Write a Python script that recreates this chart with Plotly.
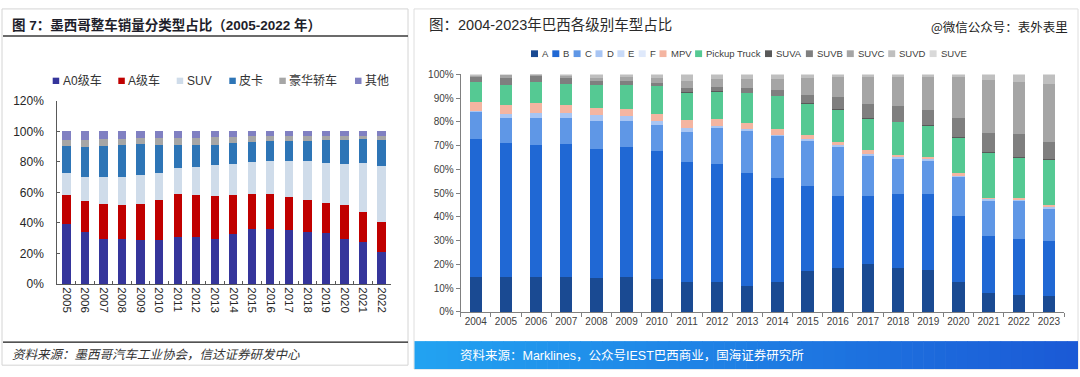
import plotly.graph_objects as go

W, H = 1080, 377

# ---------------- Left chart data: Mexico vehicle sales share by type (%) ----------------
mx_years = ["2005", "2006", "2007", "2008", "2009", "2010", "2011", "2012", "2013",
            "2014", "2015", "2016", "2017", "2018", "2019", "2020", "2021", "2022"]
mx_a0 = [39.0, 33.8, 29.2, 29.2, 28.8, 28.6, 30.7, 30.5, 29.2, 32.8, 35.9, 36.3, 35.1, 33.8, 33.4, 29.4, 27.5, 21.2]
mx_a = [19.4, 20.4, 23.5, 22.3, 23.7, 26.7, 28.5, 27.7, 28.6, 25.4, 23.3, 22.9, 21.8, 21.0, 19.8, 22.3, 20.0, 19.6]
mx_suv = [14.1, 16.0, 17.7, 18.7, 18.7, 17.6, 16.6, 18.3, 19.9, 20.4, 20.6, 21.1, 23.8, 25.9, 26.4, 26.7, 31.5, 36.3]
mx_pickup = [17.8, 19.5, 20.1, 21.2, 20.6, 18.3, 15.6, 14.3, 13.5, 13.8, 13.5, 13.2, 13.2, 13.2, 14.7, 16.1, 15.7, 17.2]
mx_luxury = [4.0, 4.6, 4.5, 3.8, 3.8, 4.4, 4.6, 5.2, 5.2, 4.2, 3.5, 3.3, 3.2, 3.2, 2.8, 2.6, 2.4, 2.5]
mx_other = [5.7, 5.7, 5.0, 4.8, 4.4, 4.4, 4.0, 4.0, 3.6, 3.4, 3.2, 3.2, 2.9, 2.9, 2.9, 2.9, 2.9, 3.2]
mx_names = ["A0级车", "A级车", "SUV", "皮卡", "豪华轿车", "其他"]
mx_yticks = [0, 20, 40, 60, 80, 100, 120]
mx_yticklabels = ["0%", "20%", "40%", "60%", "80%", "100%", "120%"]

# ---------------- Right chart data: Brazil share by segment (%) ----------------
br_years = ["2004", "2005", "2006", "2007", "2008", "2009", "2010", "2011", "2012", "2013",
            "2014", "2015", "2016", "2017", "2018", "2019", "2020", "2021", "2022", "2023"]
br_a = [14.6, 14.9, 14.9, 14.9, 14.2, 14.6, 13.8, 12.8, 12.8, 11.1, 12.8, 17.3, 18.5, 20.0, 18.6, 17.6, 12.4, 8.1, 7.0, 6.8]
br_b = [58.1, 56.3, 55.4, 55.8, 54.3, 55.0, 54.0, 50.3, 49.5, 47.4, 43.6, 35.7, 30.4, 28.9, 30.9, 31.9, 27.9, 23.9, 23.7, 22.9]
br_c = [11.4, 10.3, 11.2, 10.8, 11.9, 10.8, 10.8, 12.7, 15.0, 17.6, 17.5, 19.0, 20.4, 16.9, 15.0, 14.0, 16.6, 14.6, 15.9, 13.7]
br_d = [0.5, 1.7, 2.4, 2.3, 2.4, 2.0, 1.9, 1.6, 0.8, 0.9, 0.8, 0.7, 0.8, 0.8, 0.6, 0.7, 0.5, 0.8, 0.7, 0.9]
br_e = [0, 0, 0, 0, 0, 0, 0, 0, 0, 0, 0, 0, 0, 0, 0, 0, 0, 0, 0, 0]
br_f = [0, 0, 0, 0, 0, 0, 0, 0, 0, 0, 0, 0, 0, 0, 0, 0, 0, 0, 0, 0]
br_mpv = [3.8, 4.1, 4.2, 3.5, 2.9, 3.0, 3.0, 3.4, 3.3, 2.7, 2.3, 2.0, 1.4, 1.4, 1.1, 0.9, 1.0, 0.4, 0.8, 0.7]
br_pickup = [8.2, 8.4, 8.5, 8.8, 9.7, 10.0, 11.5, 11.5, 11.3, 12.3, 13.8, 12.8, 13.6, 13.4, 13.6, 13.3, 15.0, 19.1, 16.9, 18.9]
br_suva = [0, 0, 0, 0, 0, 0, 0, 0.5, 0.3, 0.3, 0.3, 0.3, 0.3, 0.3, 0.3, 0.3, 0.3, 0.3, 0.3, 0.3]
br_suvb = [2.4, 2.9, 2.9, 2.3, 1.9, 1.9, 1.4, 1.5, 1.6, 2.0, 2.2, 3.7, 5.0, 5.7, 6.6, 6.4, 8.1, 8.1, 9.6, 7.3]
br_suvc = [0.5, 1.1, 0.2, 1.1, 1.3, 1.6, 2.2, 3.0, 3.5, 3.8, 4.9, 7.1, 8.5, 11.6, 12.2, 14.0, 17.1, 22.4, 22.1, 24.5]
br_suvd = [0.5, 0.3, 0.3, 0.5, 1.4, 1.1, 1.4, 2.7, 1.9, 1.9, 1.8, 1.4, 1.1, 1.0, 1.1, 0.9, 1.1, 2.3, 3.0, 4.0]
br_suve = [0, 0, 0, 0, 0, 0, 0, 0, 0, 0, 0, 0, 0, 0, 0, 0, 0, 0, 0, 0]
br_names = ["A", "B", "C", "D", "E", "F", "MPV", "Pickup Truck", "SUVA", "SUVB", "SUVC", "SUVD", "SUVE"]
br_yticks = [0, 10, 20, 30, 40, 50, 60, 70, 80, 90, 100]
br_yticklabels = ["0%", "10%", "20%", "30%", "40%", "50%", "60%", "70%", "80%", "90%", "100%"]

# ---------------- Styles ----------------
mx_colors = ["#35359b", "#c00000", "#cfdcea", "#2e75b6", "#a6a6a6", "#8080c2"]
br_colors = ["#1a4a92", "#2068d4", "#5f97e6", "#a8c5f3", "#c8daf8", "#dfe9fb", "#f4b5a1",
             "#55c993", "#595959", "#7f7f7f", "#a5a5a5", "#bfbfbf", "#d9d9d9"]

LAT = "Liberation Sans, Arial, Noto Sans CJK SC, sans-serif"
CJK = "Noto Sans CJK SC, Noto Sans, sans-serif"


def px(x):
    return x / W


def py(y):
    return 1 - y / H


fig = go.Figure()

mx_values = [mx_a0, mx_a, mx_suv, mx_pickup, mx_luxury, mx_other]
for name, vals, col in zip(mx_names, mx_values, mx_colors):
    fig.add_trace(go.Bar(x=mx_years, y=vals, name=name, xaxis="x", yaxis="y",
                         marker=dict(color=col, line=dict(width=0)), width=0.45,
                         showlegend=False, hovertemplate="%{x} " + name + ": %{y}%<extra></extra>"))

br_values = [br_a, br_b, br_c, br_d, br_e, br_f, br_mpv, br_pickup,
             br_suva, br_suvb, br_suvc, br_suvd, br_suve]
for name, vals, col in zip(br_names, br_values, br_colors):
    fig.add_trace(go.Bar(x=br_years, y=vals, name=name, xaxis="x2", yaxis="y2",
                         marker=dict(color=col, line=dict(width=0)), width=0.41,
                         showlegend=False, hovertemplate="%{x} " + name + ": %{y}%<extra></extra>"))

shapes = []
annotations = []

# panel frames
shapes.append(dict(type="rect", xref="paper", yref="paper", x0=px(2), x1=px(408), y0=py(372), y1=py(2),
                   line=dict(color="#d4d4d4", width=1), fillcolor="rgba(0,0,0,0)", layer="below"))
shapes.append(dict(type="rect", xref="paper", yref="paper", x0=px(414), x1=px(1078), y0=py(376), y1=py(2),
                   line=dict(color="#dedede", width=1), fillcolor="rgba(0,0,0,0)", layer="below"))

# left title underline and source rule
shapes.append(dict(type="line", xref="paper", yref="paper", x0=px(3), x1=px(408), y0=py(30), y1=py(30),
                   line=dict(color="#3a3a3a", width=1.5)))
shapes.append(dict(type="line", xref="paper", yref="paper", x0=px(3), x1=px(408), y0=py(348), y1=py(348),
                   line=dict(color="#1a1a1a", width=1.2)))

# right source bar gradient
c_left = (0x22, 0xa2, 0xf1)
c_right = (0x1b, 0x5a, 0xd6)
n_strips = 60
x_start, x_end = 414.5, 1078
for i in range(n_strips):
    t = i / (n_strips - 1)
    r = round(c_left[0] + (c_right[0] - c_left[0]) * t)
    g = round(c_left[1] + (c_right[1] - c_left[1]) * t)
    b = round(c_left[2] + (c_right[2] - c_left[2]) * t)
    xa = x_start + (x_end - x_start) * i / n_strips
    xb = x_start + (x_end - x_start) * (i + 1) / n_strips + 0.6
    shapes.append(dict(type="rect", xref="paper", yref="paper", x0=px(xa), x1=px(min(xb, x_end)),
                       y0=py(376), y1=py(347), line=dict(width=0), fillcolor=f"rgb({r},{g},{b})"))

# left legend (manual, to match compact layout)
mx_leg_x = [52.7, 118.3, 176.7, 229.3, 279.3, 355.0]
mx_leg_y = 76.7
for name, col, sx in zip(mx_names, mx_colors, mx_leg_x):
    shapes.append(dict(type="rect", xref="paper", yref="paper", x0=px(sx), x1=px(sx + 6.5),
                       y0=py(mx_leg_y + 3.3), y1=py(mx_leg_y - 3.3), line=dict(width=0), fillcolor=col))
    annotations.append(dict(text=name, x=px(sx + 8), y=py(mx_leg_y), xref="paper", yref="paper",
                            xanchor="left", yanchor="middle", showarrow=False,
                            font=dict(family=LAT, size=12, color="#333333")))

# right legend
br_leg_x = [531.0, 552.3, 573.6, 595.5, 617.4, 638.7, 659.5, 695.1, 765.0, 805.9, 846.8, 888.2, 929.6]
br_leg_y = 48.5
for name, col, sx in zip(br_names, br_colors, br_leg_x):
    shapes.append(dict(type="rect", xref="paper", yref="paper", x0=px(sx), x1=px(sx + 7),
                       y0=py(br_leg_y + 3.5), y1=py(br_leg_y - 3.5), line=dict(width=0), fillcolor=col))
    annotations.append(dict(text=name, x=px(sx + 9), y=py(br_leg_y), xref="paper", yref="paper",
                            xanchor="left", yanchor="middle", showarrow=False,
                            font=dict(family=LAT, size=9.5, color="#404040")))

# titles and notes
annotations += [
    dict(text="<b>图 7：墨西哥整车销量分类型占比（2005-2022 年）</b>", x=px(10), y=py(18.5),
         xref="paper", yref="paper", xanchor="left", yanchor="middle", showarrow=False,
         font=dict(family=LAT, size=13.5, color="#1e1e2a")),
    dict(text="资料来源：墨西哥汽车工业协会，信达证券研发中心", x=px(10), y=py(360),
         xref="paper", yref="paper", xanchor="left", yanchor="middle", showarrow=False,
         font=dict(family=CJK, size=12.5, color="#333333", style="italic")),
    dict(text="图：2004-2023年巴西各级别车型占比", x=px(427), y=py(18.5),
         xref="paper", yref="paper", xanchor="left", yanchor="middle", showarrow=False,
         font=dict(family=LAT, size=14.5, color="#2a2a2a")),
    dict(text="@微信公众号：表外表里", x=px(1070), y=py(20.5),
         xref="paper", yref="paper", xanchor="right", yanchor="middle", showarrow=False,
         font=dict(family=CJK, size=12.5, color="#222222")),
    dict(text="资料来源：Marklines，公众号IEST巴西商业，国海证券研究所", x=px(458), y=py(362),
         xref="paper", yref="paper", xanchor="left", yanchor="middle", showarrow=False,
         font=dict(family=LAT, size=12.5, color="#ffffff")),
]

fig.update_layout(
    width=W, height=H, autosize=False,
    margin=dict(l=0, r=0, t=0, b=0, pad=0),
    paper_bgcolor="white", plot_bgcolor="white",
    barmode="stack", showlegend=False,
    font=dict(family=LAT, color="#333333"),
    xaxis=dict(domain=[px(57.3), px(390.7)], type="category", anchor="y",
               tickangle=90, tickfont=dict(family=LAT, size=11.5, color="#262626"),
               showline=True, linecolor="#595959", linewidth=1,
               ticks="inside", tickson="boundaries", ticklen=3, tickcolor="#595959",
               showgrid=False, zeroline=False, fixedrange=True),
    yaxis=dict(domain=[py(287.7), py(97.5)], range=[0, 120],
               tickmode="array", tickvals=mx_yticks, ticktext=mx_yticklabels,
               anchor="x", showline=True, linecolor="#595959", linewidth=1,
               ticks="inside", ticklen=3, tickcolor="#595959", ticklabelstandoff=10,
               showgrid=False, zeroline=False, fixedrange=True,
               tickfont=dict(family=LAT, size=12, color="#262626")),
    xaxis2=dict(domain=[px(460.7), px(1064)], type="category", anchor="y2",
                tickangle=0, tickfont=dict(family=LAT, size=10, color="#404040"),
                showline=True, linecolor="#808080", linewidth=1,
                ticks="outside", tickson="boundaries", ticklen=4, tickcolor="#808080",
                showgrid=False, zeroline=False, fixedrange=True),
    yaxis2=dict(domain=[py(316.7), py(70)], range=[0, 100],
                tickmode="array", tickvals=br_yticks, ticktext=br_yticklabels,
                anchor="x2", showline=True, linecolor="#808080", linewidth=1,
                ticks="outside", ticklen=4, tickcolor="#808080",
                showgrid=False, zeroline=False, fixedrange=True,
                tickfont=dict(family=LAT, size=10, color="#404040")),
    shapes=shapes,
    annotations=annotations,
)

fig.write_html(
    "out.html",
    config={"displayModeBar": False, "staticPlot": False},
    post_script="document.body.style.margin='0';document.body.style.overflow='hidden';",
)
